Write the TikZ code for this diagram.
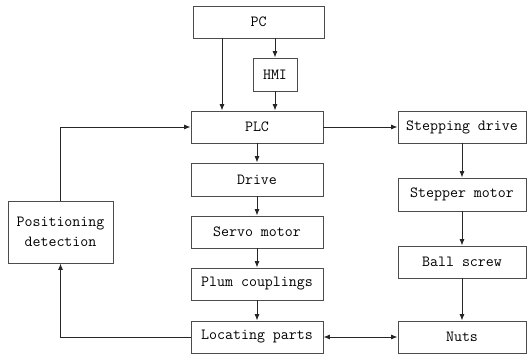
\documentclass[tikz,border=0pt]{standalone}
\usepackage{fontspec}
\usetikzlibrary{arrows.meta}
\begin{document}
\begin{tikzpicture}[x=1pt,y=-1pt,
  box/.style={draw=black!70,line width=0.9pt,inner sep=0pt,align=center,
    font=\ttfamily\fontsize{15.5}{17}\selectfont,text=black},
  conn/.style={draw=black!85,line width=0.8pt,-{Latex[length=6.5pt,width=5pt]}}]
\useasboundingbox (0,0) rectangle (530,358);
\node[box,minimum width=131pt,minimum height=32pt] (pc) at (258.5,22) {PC};
\node[box,minimum width=44pt,minimum height=33pt] (hmi) at (275,74.5) {HMI};
\node[box,minimum width=132pt,minimum height=32pt] (plc) at (257,127) {PLC};
\node[box,minimum width=132pt,minimum height=33pt] (drive) at (257,179.5) {Drive};
\node[box,minimum width=132pt,minimum height=32pt] (servo) at (257,232) {Servo motor};
\node[box,minimum width=132pt,minimum height=32pt] (plum) at (257,284) {Plum couplings};
\node[box,minimum width=132pt,minimum height=32pt] (loc) at (257,337) {Locating parts};
\node[box,minimum width=128pt,minimum height=32pt] (sd) at (462,127) {Stepping drive};
\node[box,minimum width=128pt,minimum height=33pt] (sm) at (462,194.5) {Stepper motor};
\node[box,minimum width=128pt,minimum height=32pt] (bs) at (462,262) {Ball screw};
\node[box,minimum width=128pt,minimum height=32pt] (nuts) at (462,337) {Nuts};
\node[box,minimum width=105pt,minimum height=62pt,font=\ttfamily\fontsize{15.5}{20}\selectfont] (pd) at (60.5,232) {Positioning\\detection};
\draw[conn] (pc.south -| 222,0) -- (plc.north -| 222,0);
\draw[conn] (pc.south -| hmi) -- (hmi.north);
\draw[conn] (hmi.south) -- (plc.north -| hmi);
\draw[conn] (plc) -- (drive);
\draw[conn] (drive) -- (servo);
\draw[conn] (servo) -- (plum);
\draw[conn] (plum) -- (loc);
\draw[conn] (plc.east) -- (sd.west);
\draw[conn] (sd) -- (sm);
\draw[conn] (sm) -- (bs);
\draw[conn] (bs) -- (nuts);
\draw[conn,{Latex[length=6.5pt,width=5pt]}-{Latex[length=6.5pt,width=5pt]}] (loc) -- (nuts);
\draw[conn] (pd.north) |- (plc.west);
\draw[conn] (loc.west) -| (pd.south);
\end{tikzpicture}
\end{document}
